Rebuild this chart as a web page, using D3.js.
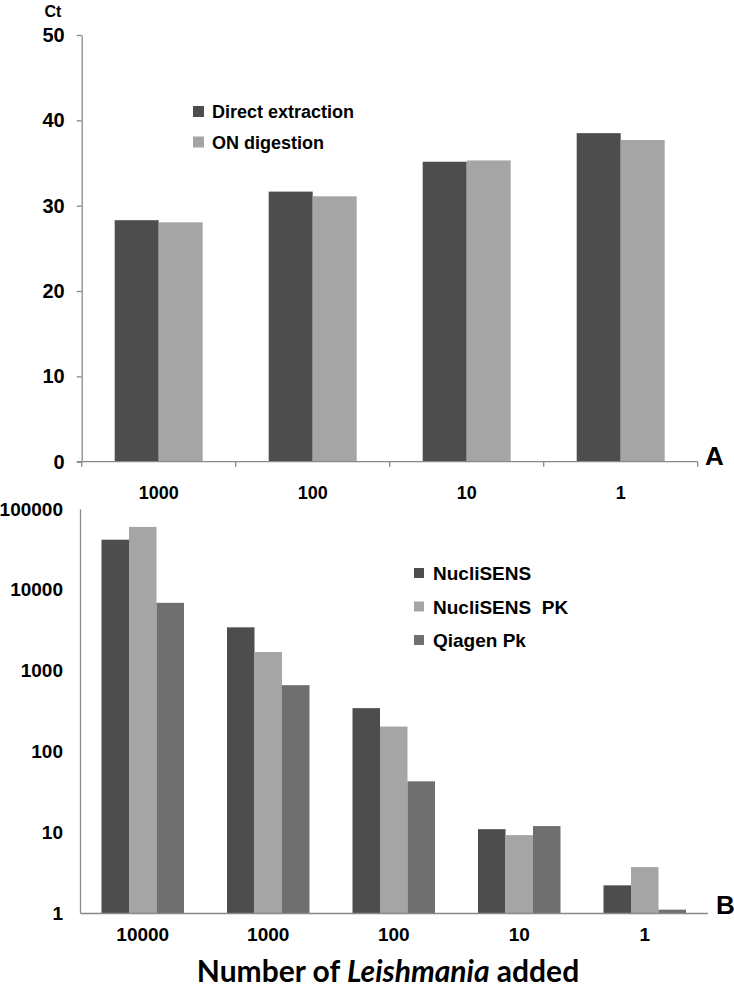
<!DOCTYPE html>
<html>
<head>
<meta charset="utf-8">
<script src="https://cdn.jsdelivr.net/npm/d3@7"></script>
<style>
  body { margin: 0; background: #fff; }
  svg text { font-family: "Liberation Sans", Arial, sans-serif; font-weight: bold; fill: #000; }
  .axis path, .axis line { stroke: #898989; stroke-width: 1.3; }
</style>
</head>
<body>
<div id="chart"></div>
<script>
// panel A: Ct values
const catsA = ['1000', '100', '10', '1'];
const seriesA = ['Direct extraction', 'ON digestion'];
const directExtraction = [28.3, 31.65, 35.15, 38.5];
const onDigestion = [28.05, 31.1, 35.3, 37.7];
const ticksA = [0, 10, 20, 30, 40, 50];

// panel B: log scale
const catsB = ['10000', '1000', '100', '10', '1'];
const seriesB = ['NucliSENS', 'NucliSENS  PK', 'Qiagen Pk'];
const nucliSens = [41700, 3430, 343, 10.9, 2.2];
const nucliSensPk = [60000, 1700, 203, 9.2, 3.7];
const qiagenPk = [6900, 660, 42.6, 11.9, 1.1];
const ticksB = [1, 10, 100, 1000, 10000, 100000];

const colA = ['#4d4d4d', '#a5a5a5'];
const colB = ['#4d4d4d', '#a5a5a5', '#6f6f6f'];

const svg = d3.select('#chart').append('svg')
  .attr('width', 734).attr('height', 991);

// ---------- panel A ----------
const xA = d3.scaleBand().domain(catsA).range([81.7, 697.7]);
const yA = d3.scaleLinear().domain([0, 50]).range([461.7, 35]);
const subA = d3.scaleBand().domain(seriesA).range([0, 88]);
const dataA = [directExtraction, onDigestion];

const gA = svg.append('g');
seriesA.forEach((s, i) => {
  gA.append('g').attr('fill', colA[i])
    .selectAll('rect')
    .data(catsA.map((c, j) => ({ c, v: dataA[i][j] })))
    .enter()
    .append('rect')
    .attr('x', (d) => xA(d.c) + (xA.bandwidth() - 88) / 2 + subA(s))
    .attr('y', (d) => yA(d.v))
    .attr('width', subA.bandwidth())
    .attr('height', (d) => yA(0) - yA(d.v));
});

const yAxisA = gA.append('g')
  .attr('class', 'axis')
  .attr('transform', 'translate(81.7,0)')
  .call(d3.axisLeft(yA).tickValues(ticksA).tickSize(5).tickSizeOuter(0).tickPadding(12));
yAxisA.selectAll('text').style('font-size', '20px');

const xAxisA = gA.append('g')
  .attr('class', 'axis')
  .attr('transform', `translate(0,${yA(0)})`)
  .call(d3.axisBottom(xA).tickSize(0).tickSizeOuter(0).tickPadding(25));
xAxisA.selectAll('text').style('font-size', '18px');
xAxisA.select('.domain').attr('d', `M76.7,0H${xA.range()[1]}`);
xAxisA.selectAll('.bound')
  .data(catsA.map((c) => xA(c)).concat([xA.range()[1]]))
  .enter()
  .append('line')
  .attr('class', 'bound')
  .attr('x1', (d) => d).attr('x2', (d) => d)
  .attr('y1', 0).attr('y2', 5);

gA.append('text').attr('x', 53).attr('y', 17).attr('text-anchor', 'middle')
  .style('font-size', '16px').text('Ct');
gA.append('text').attr('x', 705).attr('y', 465)
  .style('font-size', '26px').text('A');

const legA = gA.append('g');
seriesA.forEach((s, i) => {
  legA.append('rect').attr('x', 193).attr('y', 106 + i * 30.5)
    .attr('width', 11).attr('height', 11).attr('fill', colA[i]);
  legA.append('text').attr('x', 212).attr('y', 118 + i * 30.5)
    .style('font-size', '18px').text(s);
});

// ---------- panel B ----------
const xB = d3.scaleBand().domain(catsB).range([80, 707.5]);
const yB = d3.scaleLog().domain([1, 100000]).range([913, 509]);
const subB = d3.scaleBand().domain(seriesB).range([0, 82.5]);
const dataB = [nucliSens, nucliSensPk, qiagenPk];

const gB = svg.append('g');
seriesB.forEach((s, i) => {
  gB.append('g').attr('fill', colB[i])
    .selectAll('rect')
    .data(catsB.map((c, j) => ({ c, v: dataB[i][j] })))
    .enter()
    .append('rect')
    .attr('x', (d) => xB(d.c) + (xB.bandwidth() - 82.5) / 2 + subB(s))
    .attr('y', (d) => yB(d.v))
    .attr('width', subB.bandwidth())
    .attr('height', (d) => yB(1) - yB(d.v));
});

const yAxisB = gB.append('g')
  .attr('class', 'axis')
  .attr('transform', 'translate(80,0)')
  .call(d3.axisLeft(yB).tickValues(ticksB).tickFormat(d3.format('d')).tickSize(0).tickSizeOuter(0).tickPadding(17));
yAxisB.selectAll('text').style('font-size', '19px');

const xAxisB = gB.append('g')
  .attr('class', 'axis')
  .attr('transform', `translate(0,${yB(1)})`)
  .call(d3.axisBottom(xB).tickSize(0).tickSizeOuter(0).tickPadding(15));
xAxisB.selectAll('text').style('font-size', '19px');

gB.append('text').attr('x', 716).attr('y', 914)
  .style('font-size', '26px').text('B');

const legB = gB.append('g');
seriesB.forEach((s, i) => {
  legB.append('rect').attr('x', 414).attr('y', 568 + i * 33.5)
    .attr('width', 10).attr('height', 10).attr('fill', colB[i]);
  legB.append('text').attr('x', 433).attr('y', 580 + i * 33.5)
    .style('font-size', '19px').style('white-space', 'pre').text(s);
});

const title = svg.append('text')
  .attr('x', 388).attr('y', 982)
  .attr('text-anchor', 'middle')
  .style('font-family', 'Lato, "Open Sans", sans-serif')
  .style('font-size', '30px');
title.append('tspan').text('Number of ');
title.append('tspan').style('font-style', 'italic').text('Leishmania');
title.append('tspan').text(' added');
</script>
</body>
</html>
